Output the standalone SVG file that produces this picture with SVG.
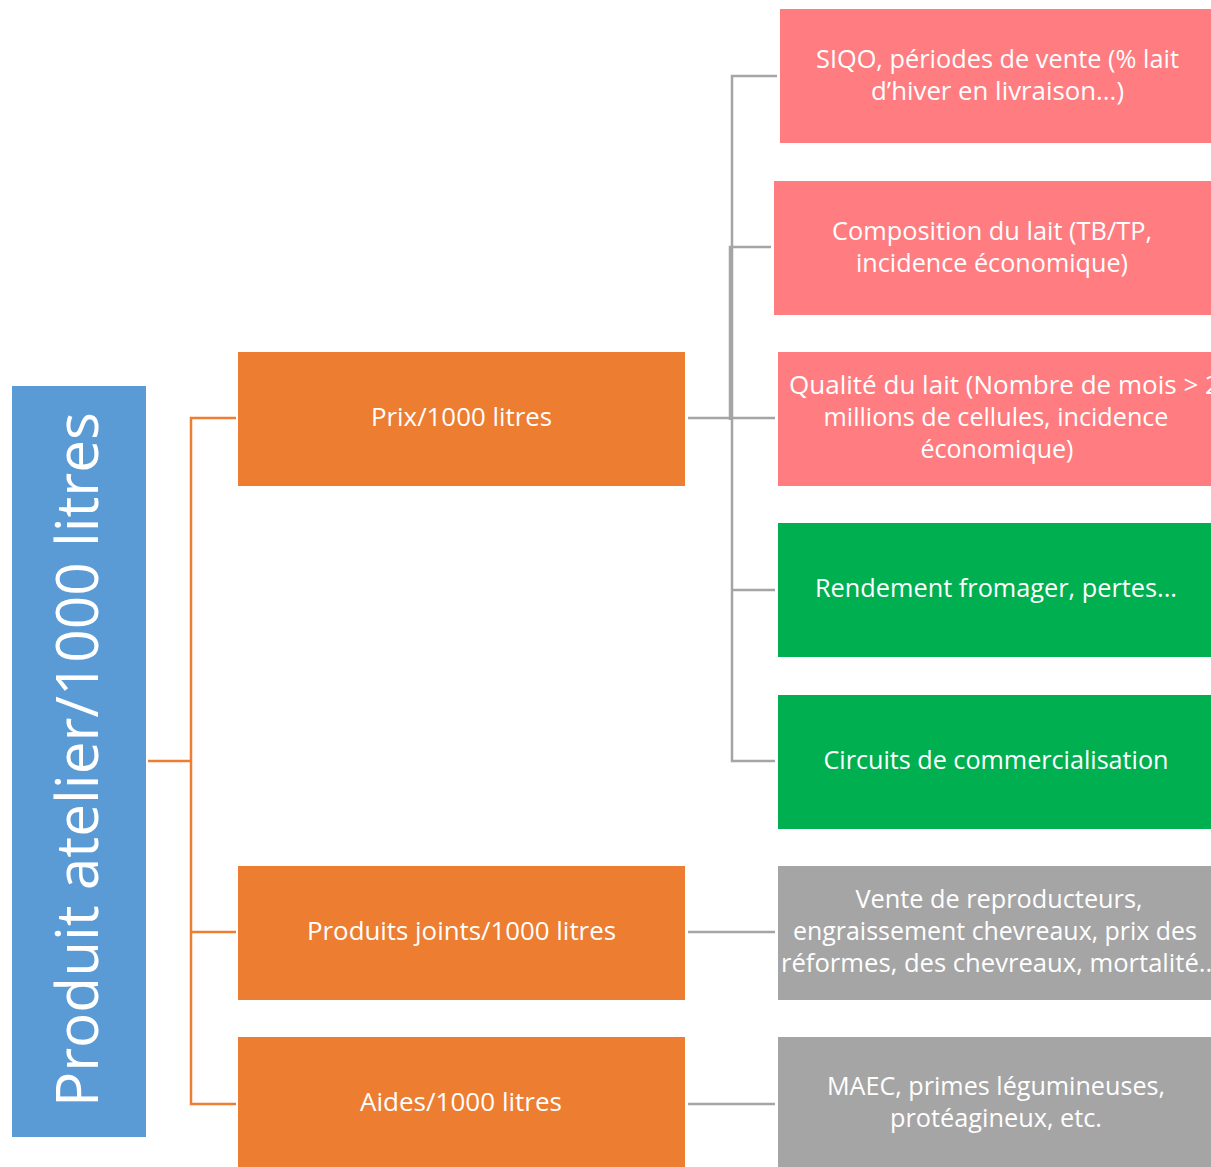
<svg xmlns="http://www.w3.org/2000/svg" width="1211" height="1167" viewBox="0 0 1211 1167">
<style>
.t{font-family:"Open Sans","Noto Sans","Liberation Sans",sans-serif;fill:#ffffff;font-size:25px;text-anchor:middle}
.big{font-size:59px}
.blue{fill:#5B9BD5}
.orange{fill:#ED7D31}
.pink{fill:#FF7C80}
.green{fill:#00B050}
.grey{fill:#A5A5A5}
.oc{fill:none;stroke:#ED7D31;stroke-width:2.5}
.gc{fill:none;stroke:#A5A5A5;stroke-width:2.5}
</style>
<rect width="1211" height="1167" fill="#ffffff"/>
<g id="connectors">
<path class="oc" d="M148 761 H191"/>
<path class="oc" d="M236 418 H191 V1104 H236"/>
<path class="oc" d="M191 932 H236"/>
<path class="gc" d="M777 76 H732 V761 H775"/>
<path class="gc" d="M771 247 H730 V420"/>
<path class="gc" d="M688 418 H775"/>
<path class="gc" d="M732 590 H775"/>
<path class="gc" d="M688 932 H775"/>
<path class="gc" d="M688 1104 H775"/>
</g>
<g id="root">
<rect class="blue" x="12" y="386" width="134" height="751"/>
<text class="t big" transform="translate(98 759.5) rotate(-90)" textLength="695" lengthAdjust="spacingAndGlyphs">Produit atelier/1000 litres</text>
</g>
<g id="prix">
<rect class="orange" x="238" y="352" width="447" height="134"/>
<text class="t" x="461.5" y="426" textLength="181" lengthAdjust="spacingAndGlyphs">Prix/1000 litres</text>
</g>
<g id="produits-joints">
<rect class="orange" x="238" y="866" width="447" height="134"/>
<text class="t" x="461.5" y="940" textLength="309" lengthAdjust="spacingAndGlyphs">Produits joints/1000 litres</text>
</g>
<g id="aides">
<rect class="orange" x="238" y="1037" width="447" height="134"/>
<text class="t" x="461" y="1111" textLength="202" lengthAdjust="spacingAndGlyphs">Aides/1000 litres</text>
</g>
<g id="siqo">
<rect class="pink" x="780" y="9" width="450" height="134"/>
<text class="t" x="997.5" y="68" textLength="363" lengthAdjust="spacingAndGlyphs">SIQO, périodes de vente (% lait</text>
<text class="t" x="997.5" y="100" textLength="253" lengthAdjust="spacingAndGlyphs">d’hiver en livraison...)</text>
</g>
<g id="composition">
<rect class="pink" x="774" y="181" width="450" height="134"/>
<text class="t" x="992" y="240" textLength="320" lengthAdjust="spacingAndGlyphs">Composition du lait (TB/TP,</text>
<text class="t" x="992" y="272" textLength="272" lengthAdjust="spacingAndGlyphs">incidence économique)</text>
</g>
<g id="qualite">
<rect class="pink" x="778" y="352" width="450" height="134"/>
<text class="t" x="789" y="394" style="text-anchor:start" textLength="431" lengthAdjust="spacingAndGlyphs">Qualité du lait (Nombre de mois &gt; 2</text>
<text class="t" x="996" y="426" textLength="345" lengthAdjust="spacingAndGlyphs">millions de cellules, incidence</text>
<text class="t" x="997" y="458" textLength="153" lengthAdjust="spacingAndGlyphs">économique)</text>
</g>
<g id="rendement">
<rect class="green" x="778" y="523" width="450" height="134"/>
<text class="t" x="996" y="597" textLength="362" lengthAdjust="spacingAndGlyphs">Rendement fromager, pertes...</text>
</g>
<g id="circuits">
<rect class="green" x="778" y="695" width="450" height="134"/>
<text class="t" x="996" y="769" textLength="345" lengthAdjust="spacingAndGlyphs">Circuits de commercialisation</text>
</g>
<g id="vente">
<rect class="grey" x="778" y="866" width="450" height="134"/>
<text class="t" x="999" y="908" textLength="287" lengthAdjust="spacingAndGlyphs">Vente de reproducteurs,</text>
<text class="t" x="995" y="940" textLength="404" lengthAdjust="spacingAndGlyphs">engraissement chevreaux, prix des</text>
<text class="t" x="781" y="972" style="text-anchor:start" textLength="438" lengthAdjust="spacingAndGlyphs">réformes, des chevreaux, mortalité...</text>
</g>
<g id="maec">
<rect class="grey" x="778" y="1037" width="450" height="134"/>
<text class="t" x="996" y="1095" textLength="338" lengthAdjust="spacingAndGlyphs">MAEC, primes légumineuses,</text>
<text class="t" x="996" y="1127" textLength="212" lengthAdjust="spacingAndGlyphs">protéagineux, etc.</text>
</g>
</svg>
